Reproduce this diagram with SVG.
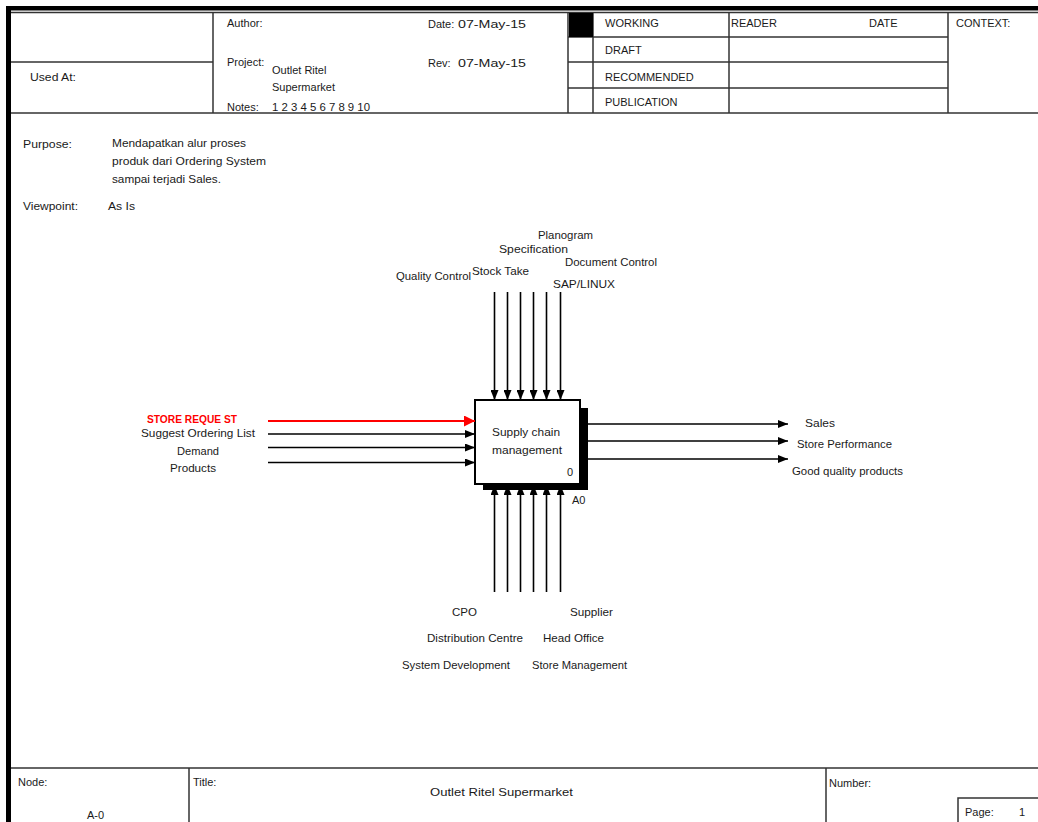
<svg xmlns="http://www.w3.org/2000/svg" width="1038" height="822" viewBox="0 0 1038 822">
<style>
text{font-family:"Liberation Sans",Arial,sans-serif;font-size:11px;fill:#1a1a1a}
.hl{stroke:#333;stroke-width:1.5;fill:none}
.ar{stroke:#000;stroke-width:1.6;fill:none}
.red{stroke:#ff0000;stroke-width:2;fill:none}
</style>
<defs>
<marker id="ah" markerUnits="userSpaceOnUse" markerWidth="10" markerHeight="8" refX="10" refY="4" orient="auto"><path d="M0,0 L10,4 L0,8 z" fill="#000"/></marker>
<marker id="ahr" markerUnits="userSpaceOnUse" markerWidth="11" markerHeight="11" refX="11" refY="5.5" orient="auto"><path d="M0,0 L11,5.5 L0,11 z" fill="#ff0000"/></marker>
</defs>
<rect width="1038" height="822" fill="#fff"/>
<g id="frame">
<rect x="6" y="6" width="1032" height="4.5" fill="#000"/>
<rect x="6" y="6" width="5" height="816" fill="#000"/>
<line class="hl" x1="11" y1="12.5" x2="1038" y2="12.5"/>
<line class="hl" x1="11" y1="113" x2="1038" y2="113"/>
<line class="hl" x1="11" y1="62" x2="213" y2="62"/>
<line class="hl" x1="213" y1="12" x2="213" y2="113"/>
<line class="hl" x1="568" y1="12" x2="568" y2="113"/>
<line class="hl" x1="593" y1="12" x2="593" y2="113"/>
<line class="hl" x1="729" y1="12" x2="729" y2="113"/>
<line class="hl" x1="948" y1="12" x2="948" y2="113"/>
<line class="hl" x1="568" y1="37" x2="948" y2="37"/>
<line class="hl" x1="568" y1="62" x2="948" y2="62"/>
<line class="hl" x1="568" y1="88" x2="948" y2="88"/>
<rect x="569" y="13" width="24" height="24" fill="#000"/>
<text x="30" y="81" textLength="46" lengthAdjust="spacingAndGlyphs">Used At:</text>
<text x="227" y="27">Author:</text>
<text x="428" y="28">Date:</text>
<text x="458" y="28" textLength="68" lengthAdjust="spacingAndGlyphs">07-May-15</text>
<text x="227" y="66">Project:</text>
<text x="272" y="74">Outlet Ritel</text>
<text x="272" y="91">Supermarket</text>
<text x="227" y="111">Notes:</text>
<text x="272" y="111" textLength="98" lengthAdjust="spacingAndGlyphs">1 2 3 4 5 6 7 8 9 10</text>
<text x="428" y="67">Rev:</text>
<text x="458" y="67" textLength="68" lengthAdjust="spacingAndGlyphs">07-May-15</text>
<text x="605" y="27">WORKING</text>
<text x="605" y="54">DRAFT</text>
<text x="605" y="81">RECOMMENDED</text>
<text x="605" y="106">PUBLICATION</text>
<text x="731" y="27">READER</text>
<text x="869" y="27">DATE</text>
<text x="956" y="27">CONTEXT:</text>
<text x="23" y="148" textLength="49" lengthAdjust="spacingAndGlyphs">Purpose:</text>
<text x="112" y="147" textLength="134" lengthAdjust="spacingAndGlyphs">Mendapatkan alur proses</text>
<text x="112" y="165" textLength="154" lengthAdjust="spacingAndGlyphs">produk dari Ordering System</text>
<text x="112" y="183" textLength="109" lengthAdjust="spacingAndGlyphs">sampai terjadi Sales.</text>
<text x="23" y="210" textLength="55" lengthAdjust="spacingAndGlyphs">Viewpoint:</text>
<text x="108" y="210" textLength="27" lengthAdjust="spacingAndGlyphs">As Is</text>
<line class="hl" x1="11" y1="768" x2="1038" y2="768"/>
<line class="hl" x1="189" y1="768" x2="189" y2="822"/>
<line class="hl" x1="826" y1="768" x2="826" y2="822"/>
<polyline class="hl" points="958,822 958,798 1038,798"/>
<text x="18" y="786">Node:</text>
<text x="87" y="819">A-0</text>
<text x="193" y="786">Title:</text>
<text x="430" y="796" textLength="143" lengthAdjust="spacingAndGlyphs">Outlet Ritel Supermarket</text>
<text x="829" y="787">Number:</text>
<text x="965" y="816">Page:</text>
<text x="1019" y="816">1</text>
</g>
<g id="A0">
<rect x="483" y="408" width="105" height="82" fill="#000"/>
<rect x="475" y="400" width="105" height="84" fill="#fff" stroke="#000" stroke-width="2"/>
<text x="492" y="436" font-size="12" textLength="68" lengthAdjust="spacingAndGlyphs">Supply chain</text>
<text x="492" y="454" font-size="12" textLength="70" lengthAdjust="spacingAndGlyphs">management</text>
<text x="567" y="476" font-size="12">0</text>
<text x="572" y="504" font-size="12">A0</text>
</g>
<g id="connectors">
<line class="ar" x1="494.5" y1="292" x2="494.5" y2="400" marker-end="url(#ah)"/>
<line class="ar" x1="507.5" y1="292" x2="507.5" y2="400" marker-end="url(#ah)"/>
<line class="ar" x1="520.5" y1="292" x2="520.5" y2="400" marker-end="url(#ah)"/>
<line class="ar" x1="533.5" y1="292" x2="533.5" y2="400" marker-end="url(#ah)"/>
<line class="ar" x1="546.5" y1="292" x2="546.5" y2="400" marker-end="url(#ah)"/>
<line class="ar" x1="560.5" y1="292" x2="560.5" y2="400" marker-end="url(#ah)"/>
<line class="ar" x1="494.5" y1="592" x2="494.5" y2="485" marker-end="url(#ah)"/>
<line class="ar" x1="507.5" y1="592" x2="507.5" y2="485" marker-end="url(#ah)"/>
<line class="ar" x1="520.5" y1="592" x2="520.5" y2="485" marker-end="url(#ah)"/>
<line class="ar" x1="533.5" y1="592" x2="533.5" y2="485" marker-end="url(#ah)"/>
<line class="ar" x1="546.5" y1="592" x2="546.5" y2="485" marker-end="url(#ah)"/>
<line class="ar" x1="560.5" y1="592" x2="560.5" y2="485" marker-end="url(#ah)"/>
<line class="red" x1="268" y1="421" x2="475" y2="421" marker-end="url(#ahr)"/>
<line class="ar" x1="268" y1="434" x2="475" y2="434" marker-end="url(#ah)"/>
<line class="ar" x1="268" y1="447.5" x2="475" y2="447.5" marker-end="url(#ah)"/>
<line class="ar" x1="268" y1="462.5" x2="475" y2="462.5" marker-end="url(#ah)"/>
<line class="ar" x1="582" y1="424" x2="788" y2="424" marker-end="url(#ah)"/>
<line class="ar" x1="582" y1="441" x2="788" y2="441" marker-end="url(#ah)"/>
<line class="ar" x1="582" y1="459" x2="788" y2="459" marker-end="url(#ah)"/>
</g>
<g id="labels">
<text x="538" y="239" textLength="55" lengthAdjust="spacingAndGlyphs">Planogram</text>
<text x="499" y="253" textLength="69" lengthAdjust="spacingAndGlyphs">Specification</text>
<text x="565" y="266" textLength="92" lengthAdjust="spacingAndGlyphs">Document Control</text>
<text x="396" y="280" textLength="75" lengthAdjust="spacingAndGlyphs">Quality Control</text>
<text x="472" y="275" textLength="57" lengthAdjust="spacingAndGlyphs">Stock Take</text>
<text x="553" y="288" textLength="62" lengthAdjust="spacingAndGlyphs">SAP/LINUX</text>
<text x="147" y="423" font-size="10" font-weight="bold" style="fill:#ff0000" textLength="90" lengthAdjust="spacingAndGlyphs">STORE REQUE ST</text>
<text x="141" y="437" textLength="114" lengthAdjust="spacingAndGlyphs">Suggest Ordering List</text>
<text x="177" y="455" textLength="42" lengthAdjust="spacingAndGlyphs">Demand</text>
<text x="170" y="472" textLength="46" lengthAdjust="spacingAndGlyphs">Products</text>
<text x="805" y="427" textLength="30" lengthAdjust="spacingAndGlyphs">Sales</text>
<text x="797" y="448" textLength="95" lengthAdjust="spacingAndGlyphs">Store Performance</text>
<text x="792" y="475" textLength="111" lengthAdjust="spacingAndGlyphs">Good quality products</text>
<text x="452" y="616" textLength="25" lengthAdjust="spacingAndGlyphs">CPO</text>
<text x="570" y="616" textLength="43" lengthAdjust="spacingAndGlyphs">Supplier</text>
<text x="427" y="642" textLength="96" lengthAdjust="spacingAndGlyphs">Distribution Centre</text>
<text x="543" y="642" textLength="61" lengthAdjust="spacingAndGlyphs">Head Office</text>
<text x="402" y="669" textLength="108" lengthAdjust="spacingAndGlyphs">System Development</text>
<text x="532" y="669" textLength="95" lengthAdjust="spacingAndGlyphs">Store Management</text>
</g>
</svg>
